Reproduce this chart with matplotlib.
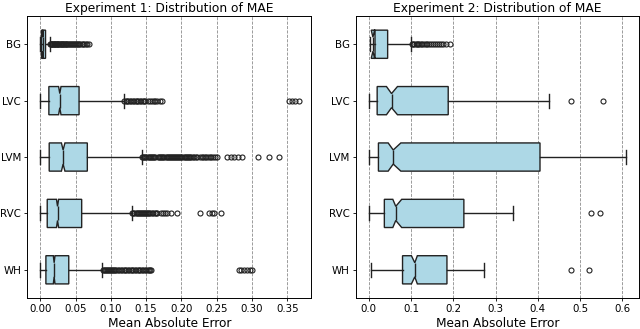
import matplotlib.pyplot as plt

labels = ["BG", "LVC", "LVM", "RVC", "WH"]

# experiment 1 box stats
exp1_whislo = [0.0, 0.0, 0.0, 0.0, 0.0]
exp1_q1 = [0.0018, 0.0122, 0.0127, 0.0099, 0.0080]
exp1_med = [0.0037, 0.0277, 0.0324, 0.0245, 0.0197]
exp1_q3 = [0.0075, 0.0550, 0.0667, 0.0587, 0.0404]
exp1_whishi = [0.0135, 0.1180, 0.1437, 0.1300, 0.0873]
exp1_cilo = [0.0032, 0.0260, 0.0300, 0.0230, 0.0185]
exp1_cihi = [0.0042, 0.0294, 0.0350, 0.0260, 0.0209]
exp1_fliers = [
    [0.0140, 0.0148, 0.0155, 0.0163, 0.0171, 0.0180, 0.0188, 0.0197, 0.0205, 0.0214,
     0.0222, 0.0231, 0.0240, 0.0249, 0.0258, 0.0268, 0.0277, 0.0287, 0.0296, 0.0306,
     0.0316, 0.0327, 0.0337, 0.0348, 0.0359, 0.0370, 0.0382, 0.0394, 0.0406, 0.0418,
     0.0431, 0.0444, 0.0458, 0.0472, 0.0487, 0.0502, 0.0518, 0.0535, 0.0552, 0.0570,
     0.0588, 0.0606, 0.0625, 0.0645, 0.0668, 0.0690],
    [0.119, 0.121, 0.123, 0.125, 0.127, 0.129, 0.131, 0.133, 0.135, 0.137, 0.139,
     0.141, 0.143, 0.145, 0.147, 0.149, 0.152, 0.155, 0.158, 0.161, 0.163, 0.166,
     0.169, 0.172, 0.353, 0.357, 0.361, 0.366],
    [0.1445, 0.1460, 0.1475, 0.1490, 0.1505, 0.1520, 0.1535, 0.1550, 0.1565, 0.1580,
     0.1600, 0.1615, 0.1630, 0.1670, 0.1685, 0.1700, 0.1715, 0.1730, 0.1745, 0.1760,
     0.1775, 0.1790, 0.1805, 0.1820, 0.1835, 0.1850, 0.1865, 0.1880, 0.1895, 0.1910,
     0.1925, 0.1940, 0.1955, 0.1970, 0.1985, 0.2000, 0.2015, 0.2030, 0.2045, 0.2060,
     0.2075, 0.2090, 0.2105, 0.2120, 0.2140, 0.2160, 0.2180, 0.2200, 0.2220, 0.2270,
     0.2290, 0.2310, 0.2330, 0.2350, 0.2375, 0.2400, 0.2420, 0.2445, 0.2470, 0.2510,
     0.2640, 0.2700, 0.2750, 0.2800, 0.2860, 0.3080, 0.3235, 0.3385],
    [0.1305, 0.1320, 0.1335, 0.1350, 0.1365, 0.1380, 0.1395, 0.1410, 0.1425, 0.1440,
     0.1455, 0.1470, 0.1485, 0.1500, 0.1515, 0.1530, 0.1545, 0.1560, 0.1580, 0.1600,
     0.1620, 0.1640, 0.1660, 0.1710, 0.1740, 0.1770, 0.1800, 0.1850, 0.1940, 0.2260,
     0.2390, 0.2430, 0.2460, 0.2560],
    [0.0885, 0.0900, 0.0915, 0.0930, 0.0945, 0.0960, 0.0975, 0.0990, 0.1005, 0.1020,
     0.1035, 0.1050, 0.1065, 0.1080, 0.1100, 0.1120, 0.1140, 0.1160, 0.1180, 0.1200,
     0.1220, 0.1240, 0.1260, 0.1280, 0.1300, 0.1320, 0.1340, 0.1360, 0.1380, 0.1400,
     0.1420, 0.1440, 0.1460, 0.1480, 0.1500, 0.1520, 0.1540, 0.1560, 0.1570,
     0.2810, 0.2850, 0.2890, 0.2930, 0.2970, 0.3000],
]

# experiment 2 box stats
exp2_whislo = [0.004, 0.001, 0.0, 0.001, 0.005]
exp2_q1 = [0.0149, 0.020, 0.023, 0.037, 0.080]
exp2_med = [0.0100, 0.054, 0.058, 0.064, 0.109]
exp2_q3 = [0.0448, 0.188, 0.405, 0.225, 0.185]
exp2_whishi = [0.0997, 0.427, 0.608, 0.342, 0.273]
exp2_cilo = [0.0060, 0.042, 0.046, 0.057, 0.101]
exp2_cihi = [0.0140, 0.068, 0.076, 0.078, 0.115]
exp2_fliers = [
    [0.102, 0.105, 0.108, 0.111, 0.114, 0.117, 0.120, 0.123, 0.127, 0.131, 0.135,
     0.139, 0.143, 0.147, 0.151, 0.156, 0.161, 0.166, 0.171, 0.176, 0.183, 0.192],
    [0.478, 0.553],
    [],
    [0.526, 0.548],
    [0.478, 0.520],
]


def make_stats(whislo, q1, med, q3, whishi, cilo, cihi, fliers):
    stats = []
    for i in range(len(labels)):
        stats.append(dict(label=labels[i], whislo=whislo[i], q1=q1[i], med=med[i],
                          q3=q3[i], whishi=whishi[i], cilo=cilo[i], cihi=cihi[i],
                          fliers=fliers[i]))
    return stats


def draw(ax, stats, title):
    ax.bxp(stats, positions=range(1, len(stats) + 1), orientation="horizontal",
           shownotches=True, patch_artist=True, widths=0.5,
           boxprops=dict(facecolor="lightblue", edgecolor="#222222", linewidth=1.0),
           medianprops=dict(color="#222222", linewidth=1.0),
           whiskerprops=dict(color="#222222", linewidth=1.0),
           capprops=dict(color="#222222", linewidth=1.0),
           flierprops=dict(marker="o", markersize=3.6, markerfacecolor="none",
                           markeredgecolor="#222222", markeredgewidth=0.8))
    ax.invert_yaxis()
    ax.set_title(title, fontsize=8.8, pad=3)
    ax.set_xlabel("Mean Absolute Error", fontsize=8.7, labelpad=2)
    ax.tick_params(labelsize=7.4, length=2.5, width=0.6, pad=2)
    ax.grid(axis="x", linestyle="--", color="#8c8c8c", linewidth=0.6)
    for s in ax.spines.values():
        s.set_linewidth(0.7)


fig = plt.figure(figsize=(6.4, 3.29), dpi=100)
ax1 = fig.add_axes([0.0427, 0.0942, 0.444, 0.857])
ax2 = fig.add_axes([0.556, 0.0942, 0.442, 0.857])

draw(ax1, make_stats(exp1_whislo, exp1_q1, exp1_med, exp1_q3, exp1_whishi,
                     exp1_cilo, exp1_cihi, exp1_fliers),
     "Experiment 1: Distribution of MAE")
draw(ax2, make_stats(exp2_whislo, exp2_q1, exp2_med, exp2_q3, exp2_whishi,
                     exp2_cilo, exp2_cihi, exp2_fliers),
     "Experiment 2: Distribution of MAE")

fig.savefig("out.png", dpi=100)
